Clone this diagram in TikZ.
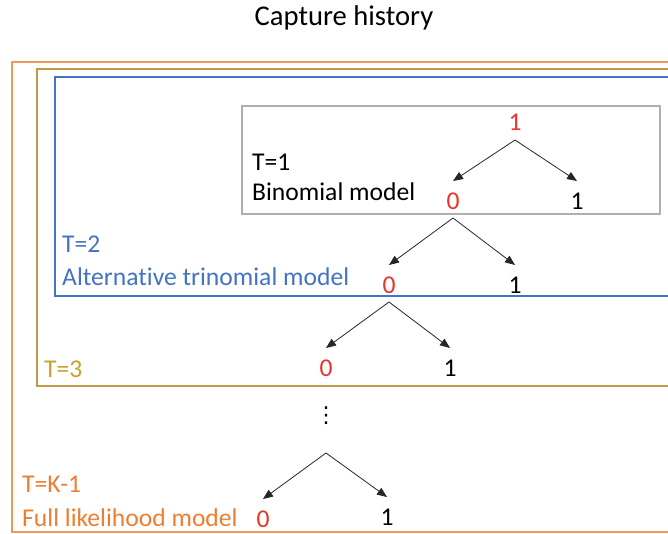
\documentclass[tikz,border=0pt]{standalone}
\usepackage{fontspec}
\setmainfont[Ligatures=NoCommon]{Carlito}
\newfontfamily\dvsans{DejaVu Sans}
\usetikzlibrary{arrows.meta}
\definecolor{orangeF}{HTML}{ED7D31}
\definecolor{goldF}{HTML}{C09A45}
\definecolor{goldT}{HTML}{C9A227}
\definecolor{blueF}{HTML}{4472C4}
\definecolor{grayF}{HTML}{AFAFAF}
\definecolor{redT}{HTML}{E8322A}
\tikzset{
  lbl/.style={font=\fontsize{25.6}{30}\selectfont, inner sep=0pt, anchor=base west},
  dig/.style={font=\fontsize{25.6}{30}\selectfont, inner sep=0pt},
  zero/.style={dig, text=redT},
  one/.style={dig, text=black},
  arr/.style={-{Triangle[length=10pt,width=8pt]}, line width=0.8pt, black!85},
  frame/.style={line width=2pt}
}
\begin{document}
\begin{tikzpicture}[x=1pt,y=-1pt]
\useasboundingbox (0,0) rectangle (668,534);
\clip (0,0) rectangle (668,534);
% frames
\draw[frame, orangeF!80] (12,62) rectangle (700,532);
\draw[frame, goldF] (37,69) rectangle (700,386);
\draw[frame, blueF] (55,77) rectangle (700,296);
\draw[line width=1.5pt, grayF] (242,106) rectangle (660,214);
% title
\node[font=\fontsize{28.6}{34}\selectfont, inner sep=0pt] (title) at (344,18) {Capture history};
% labels
\node[lbl] (t1) at (252,171) {T=1};
\node[lbl] (m1) at (252,201) {Binomial model};
\node[lbl, text=blueF] (t2) at (62,253) {T=2};
\node[lbl, text=blueF] (m2) at (62,285) {Alternative trinomial model};
\node[lbl, text=goldT] (t3) at (44,377) {T=3};
\node[lbl, text=orangeF] (t4) at (22,492) {T=K-1};
\node[lbl, text=orangeF] (m4) at (22,526) {Full likelihood model};
% digits
\node[zero, text=redT] (n1) at (515,122) {1};
\node[zero] (a0) at (453,201) {0};
\node[one] (a1) at (577,201) {1};
\node[zero] (b0) at (389,285) {0};
\node[one] (b1) at (515,285) {1};
\node[zero] (c0) at (326,368) {0};
\node[one] (c1) at (450,368) {1};
\node[font=\dvsans\fontsize{22}{26}\selectfont, inner sep=0pt] (dots) at (326,416) {⋮};
\node[zero] (d0) at (263,519) {0};
\node[one] (d1) at (387,517) {1};
\coordinate (apx4) at (326,453);
% arrows
\draw[arr] ([yshift=-18pt]n1.center) -- ([yshift=20pt]a0.center);
\draw[arr] ([yshift=-18pt]n1.center) -- ([yshift=20pt]a1.center);
\draw[arr] ([yshift=-17pt]a0.center) -- ([yshift=20pt]b0.center);
\draw[arr] ([yshift=-17pt]a0.center) -- ([yshift=20pt]b1.center);
\draw[arr] ([yshift=-17pt]b0.center) -- ([yshift=20pt]c0.center);
\draw[arr] ([yshift=-17pt]b0.center) -- ([yshift=20pt]c1.center);
\draw[arr] (apx4) -- ([yshift=20pt]d0.center);
\draw[arr] (apx4) -- ([yshift=20pt]d1.center);
\end{tikzpicture}
\end{document}
